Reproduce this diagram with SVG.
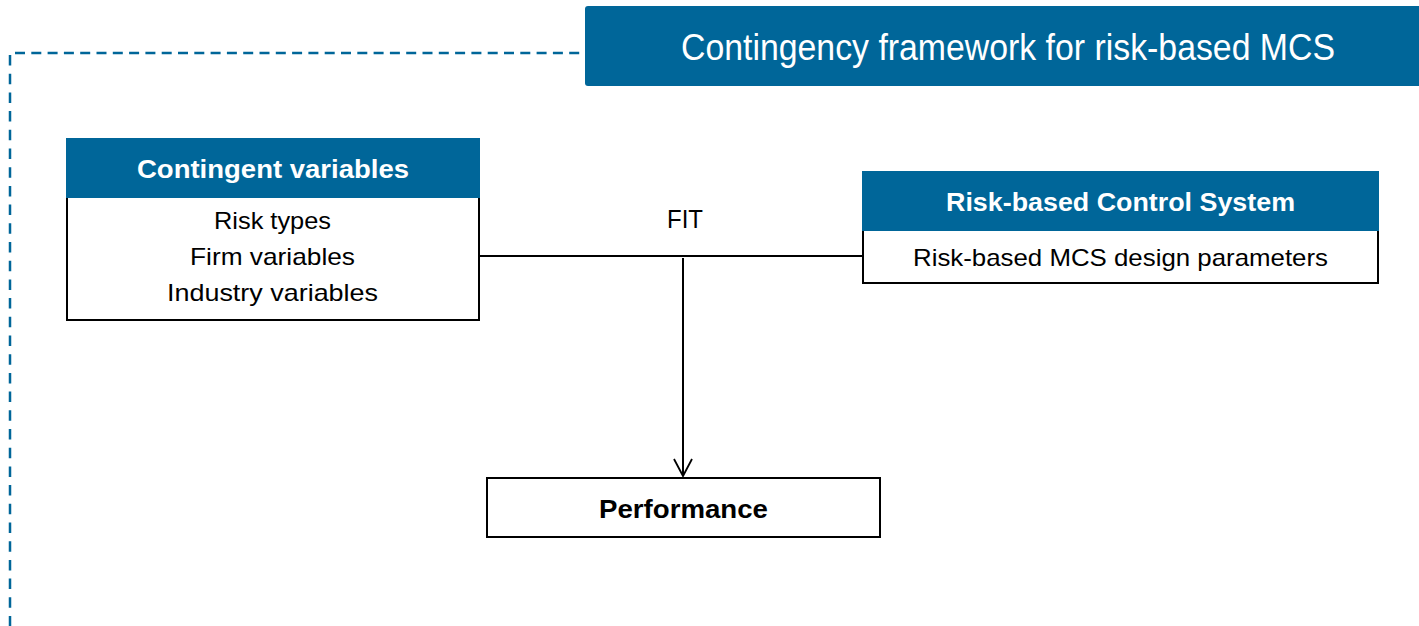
<svg xmlns="http://www.w3.org/2000/svg" width="1419" height="626" viewBox="0 0 1419 626">
<defs>
<style>
.hdr{fill:#006699;}
.box{fill:#ffffff;stroke:#000000;stroke-width:2;}
.t{font-family:"Liberation Sans",Arial,sans-serif;text-anchor:middle;}
.w{fill:#ffffff;}
.k{fill:#000000;}
.b{font-weight:bold;}
.dash{fill:none;stroke:#006699;stroke-width:2.5;}
.line{fill:none;stroke:#000000;stroke-width:2;}
</style>
<marker id="arr" viewBox="0 0 20 20" refX="18" refY="10" markerWidth="20" markerHeight="20" markerUnits="userSpaceOnUse" orient="auto">
<path d="M1,1 L18,10 L1,19" fill="none" stroke="#000" stroke-width="1.8"/>
</marker>
</defs>
<rect width="1419" height="626" fill="#ffffff"/>

<g id="frame">
<path class="dash" d="M15,53 L585,53" stroke-dasharray="10 6.3"/>
<path class="dash" d="M10,55 L10,626" stroke-dasharray="10.5 8.2"/>
</g>

<g id="title">
<rect class="hdr" x="585" y="6" width="840" height="80" rx="3"/>
<text class="t w" x="1008" y="60" font-size="36" textLength="654" lengthAdjust="spacingAndGlyphs">Contingency framework for risk-based MCS</text>
</g>

<g id="connectors">
<path class="line" d="M479,256 L862,256"/>
<path class="line" d="M683,258 L683,476" marker-end="url(#arr)"/>
<text class="t k" x="685" y="228" font-size="25" textLength="36" lengthAdjust="spacingAndGlyphs">FIT</text>
</g>

<g id="contingent">
<rect class="box" x="67" y="139" width="412" height="181"/>
<rect class="hdr" x="66" y="138" width="414" height="60"/>
<text class="t w b" x="273" y="178" font-size="26" textLength="272" lengthAdjust="spacingAndGlyphs">Contingent variables</text>
<text class="t k" x="272.5" y="229" font-size="24" textLength="117" lengthAdjust="spacingAndGlyphs">Risk types</text>
<text class="t k" x="272.5" y="265" font-size="24" textLength="165" lengthAdjust="spacingAndGlyphs">Firm variables</text>
<text class="t k" x="272.5" y="301" font-size="24" textLength="211" lengthAdjust="spacingAndGlyphs">Industry variables</text>
</g>

<g id="riskcontrol">
<rect class="box" x="863" y="172" width="515" height="111"/>
<rect class="hdr" x="862" y="171" width="517" height="60"/>
<text class="t w b" x="1120.5" y="211" font-size="26" textLength="349" lengthAdjust="spacingAndGlyphs">Risk-based Control System</text>
<text class="t k" x="1120.5" y="266" font-size="24" textLength="415" lengthAdjust="spacingAndGlyphs">Risk-based MCS design parameters</text>
</g>

<g id="performance">
<rect class="box" x="487" y="478" width="393" height="59"/>
<text class="t k b" x="683.5" y="518" font-size="25" textLength="169" lengthAdjust="spacingAndGlyphs">Performance</text>
</g>
</svg>
